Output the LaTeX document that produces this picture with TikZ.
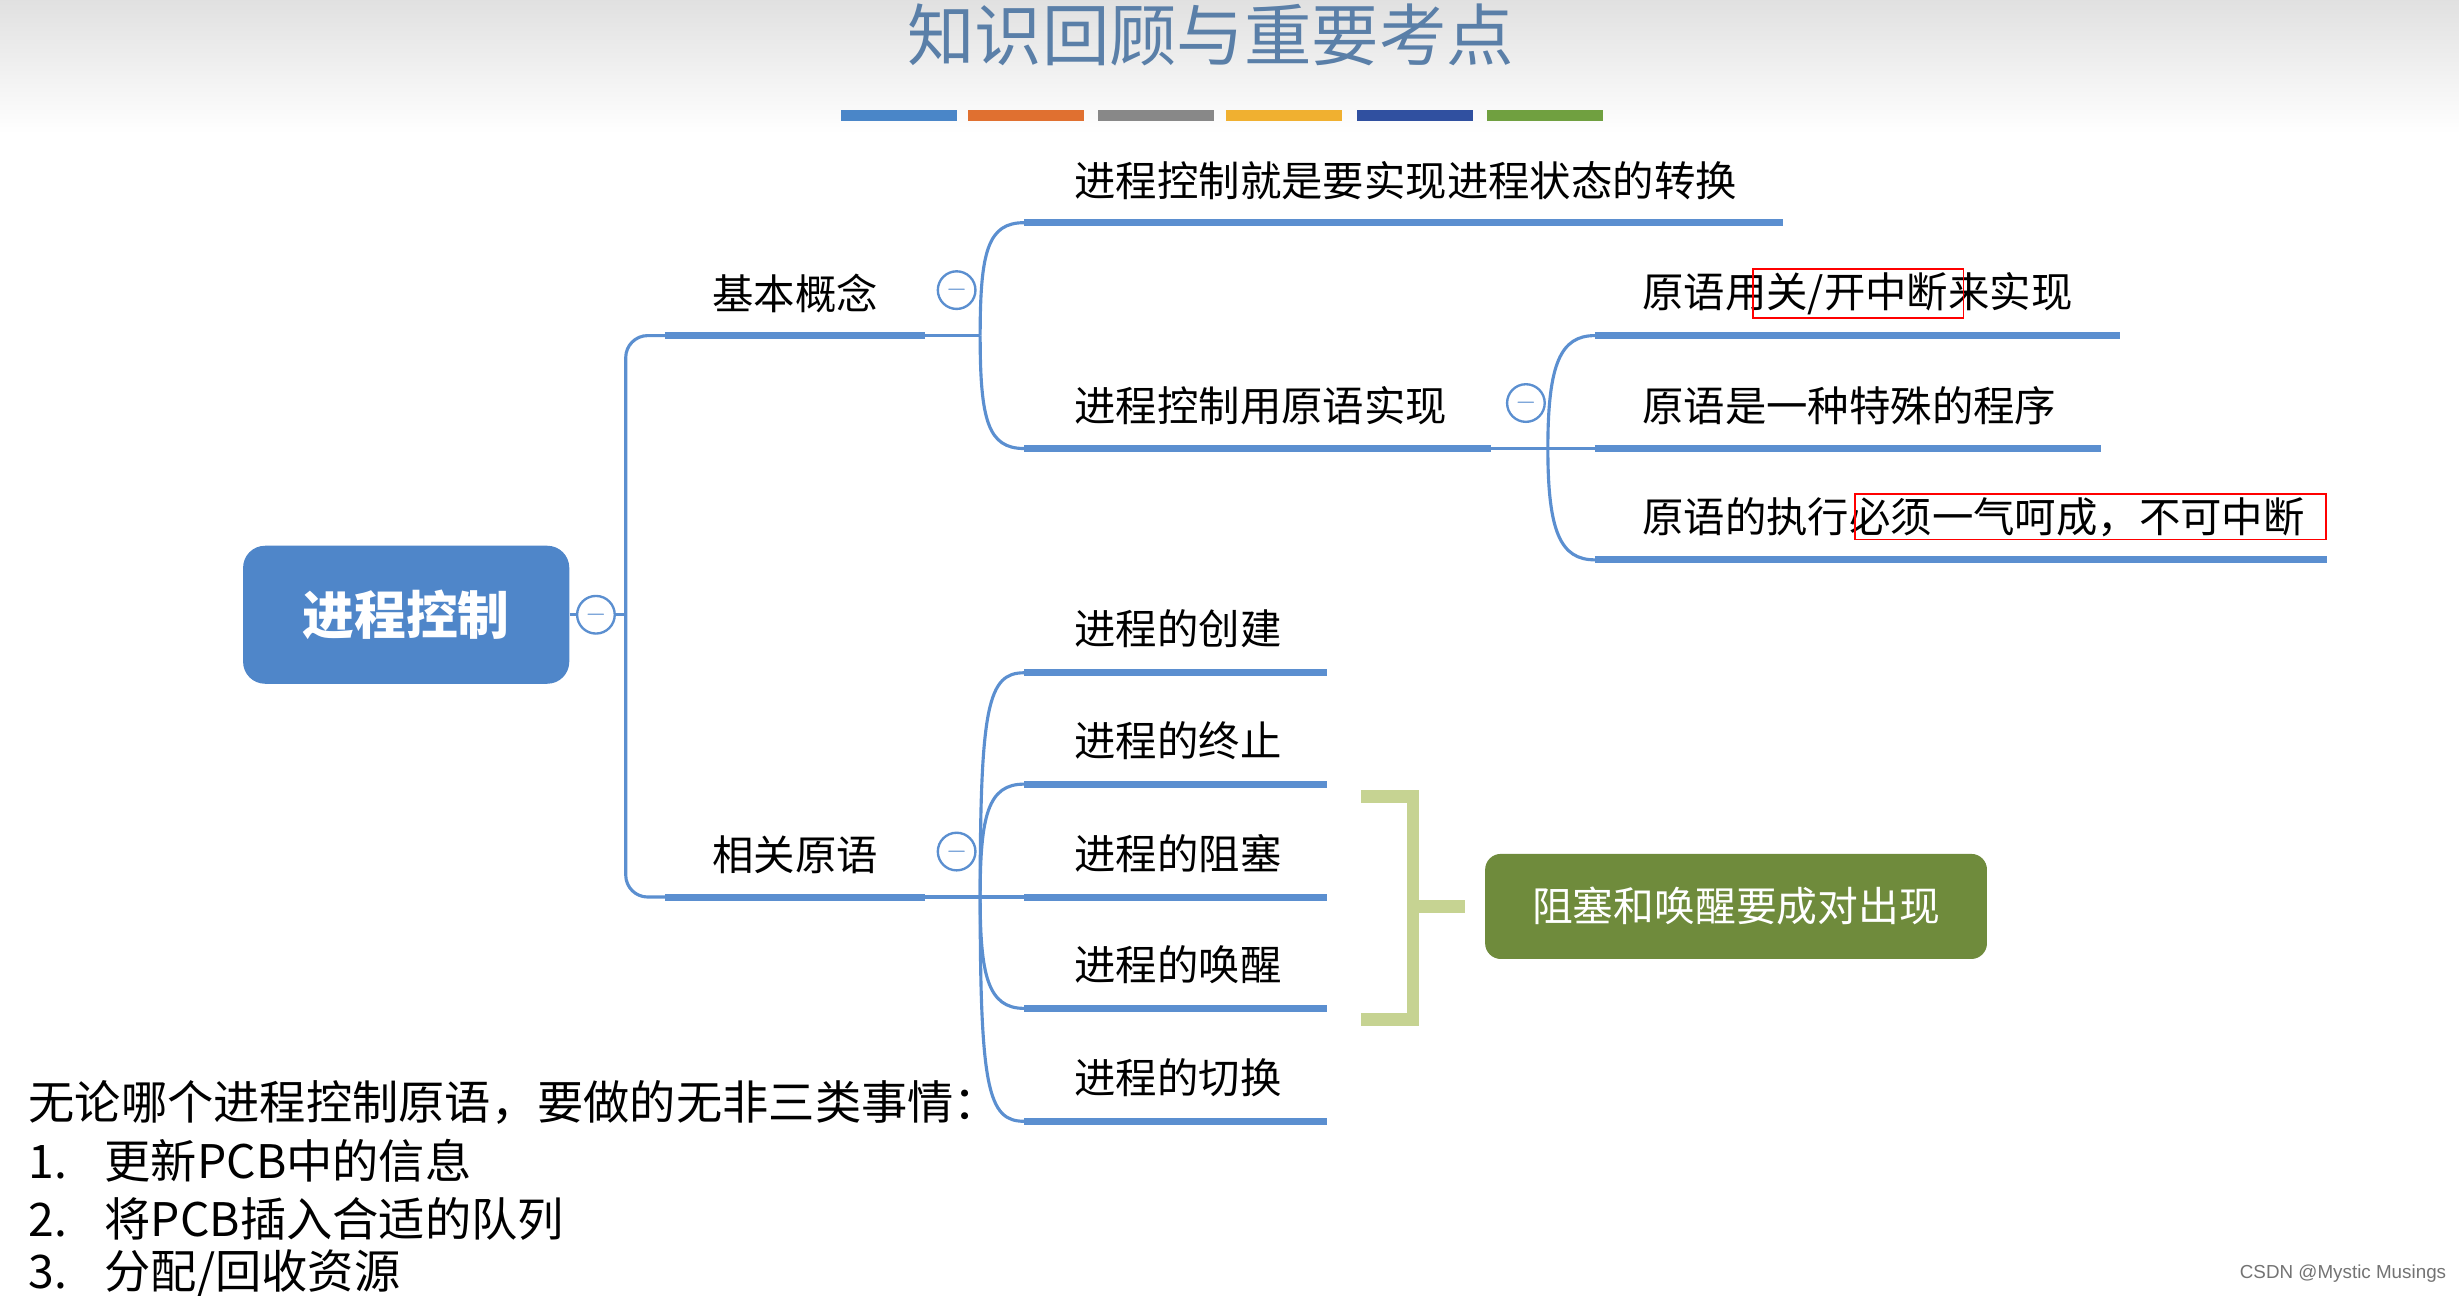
\documentclass[tikz,border=0pt]{standalone}
\usepackage{fontspec}
\setmainfont{Noto Sans CJK SC}
\newfontfamily\latin{Liberation Sans}
\definecolor{ln}{HTML}{5B8FD0}
\definecolor{rootc}{HTML}{4F86C9}
\definecolor{gbox}{HTML}{6F8B3C}
\definecolor{brk}{HTML}{C6D392}
\definecolor{ttl}{HTML}{5A7FA8}
\begin{document}
\begin{tikzpicture}[x=1pt,y=-1pt,
  t/.style={anchor=west,inner sep=0pt,font=\fontsize{26.4}{30}\selectfont},
  bt/.style={anchor=west,inner sep=0pt,font=\fontsize{29.5}{32}\selectfont},
  ul/.style={draw=ln,line width=4.5pt},
  cn/.style={draw=ln,line width=2pt},
  col/.style={circle,draw=ln,line width=1.5pt,fill=white,minimum size=24pt,inner sep=0pt,font=\fontsize{18}{18}\selectfont\color{ln}}]
\useasboundingbox (0,0) rectangle (1568,826);
\shade[top color=black!12,bottom color=white] (0,0) rectangle (1568,85);
\node[font=\fontsize{43}{46}\selectfont,text=ttl] (title) at (772,22) {知识回顾与重要考点};
\fill[fill={rgb,255:red,74;green,134;blue,200}] (536,70) rectangle ++(74,7);
\fill[fill={rgb,255:red,224;green,112;blue,48}] (617,70) rectangle ++(74,7);
\fill[fill={rgb,255:red,136;green,136;blue,136}] (700,70) rectangle ++(74,7);
\fill[fill={rgb,255:red,240;green,176;blue,48}] (782,70) rectangle ++(74,7);
\fill[fill={rgb,255:red,48;green,80;blue,160}] (865,70) rectangle ++(74,7);
\fill[fill={rgb,255:red,112;green,160;blue,64}] (948,70) rectangle ++(74,7);
% root
\node[fill=rootc,rounded corners=14pt,minimum width=208pt,minimum height=88pt,text=white,font=\fontsize{33}{36}\selectfont\bfseries] (root) at (259,392) {进程控制};
\draw[cn] (root.east) -- (399,392);
\draw[cn,rounded corners=14pt] (424,214) -- (399,214) -- (399,572) -- (424,572);
\node[col] (c0) at (380,392) {$-$};
% level 1
\coordinate (a1) at (424,214); \coordinate (a2) at (590,214);
\coordinate (b1) at (424,572); \coordinate (b2) at (590,572);
\draw[ul] (a1) -- (a2); \draw[ul] (b1) -- (b2);
\node[t] (A) at (454,187) {基本概念};
\node[t] (B) at (454,545) {相关原语};
% basic concept children
\coordinate (ja) at (625,214);
\draw[cn] (a2) -- (ja);
\coordinate (a11) at (653,142); \coordinate (a12) at (1137,142);
\coordinate (a21) at (653,286); \coordinate (a22) at (951,286);
\draw[cn] (ja) .. controls (625,160) and (630,142) .. (a11);
\draw[cn] (ja) .. controls (625,268) and (630,286) .. (a21);
\draw[ul] (a11) -- (a12); \draw[ul] (a21) -- (a22);
\node[col] (c1) at (610,185) {$-$};
\node[t] (A1) at (685,115) {进程控制就是要实现进程状态的转换};
\node[t] (A2) at (685,259) {进程控制用原语实现};
% primitive children
\coordinate (jb) at (987,286);
\draw[cn] (a22) -- (jb);
\foreach \y/\e/\n in {214/1352/p1,286/1340/p2,357/1484/p3}{
  \coordinate (\n s) at (1017,\y); \coordinate (\n e) at (\e,\y);
  \draw[ul] (\n s) -- (\n e);}
\draw[cn] (jb) .. controls (987,232) and (995,214) .. (p1s);
\draw[cn] (jb) -- (p2s);
\draw[cn] (jb) .. controls (987,339) and (995,357) .. (p3s);
\node[col] (c2) at (973,257) {$-$};
\node[t] (P1) at (1047,187) {原语用关/开中断来实现};
\node[t] (P2) at (1047,259) {原语是一种特殊的程序};
\node[t] (P3) at (1047,330) {原语的执行必须一气呵成，不可中断};
\node[draw=red,line width=1.2pt,minimum width=134pt,minimum height=31pt,inner sep=0pt] (r1) at (1185,187) {};
\node[draw=red,line width=1.2pt,minimum width=300pt,minimum height=29pt,inner sep=0pt] (r2) at (1333,329.5) {};
% related primitives
\coordinate (jc) at (625,572);
\draw[cn] (b2) -- (jc);
\node[col] (c3) at (610,543) {$-$};
\foreach \y/\n/\txt in {429/q1/进程的创建,500/q2/进程的终止,572/q3/进程的阻塞,643/q4/进程的唤醒,715/q5/进程的切换}{
  \coordinate (\n s) at (653,\y); \coordinate (\n e) at (846,\y);
  \draw[ul] (\n s) -- (\n e);
  \node[t] (\n t) at (685,\y-28) {\txt};}
\draw[cn] (jc) .. controls (625,450) and (630,429) .. (q1s);
\draw[cn] (jc) .. controls (625,520) and (630,500) .. (q2s);
\draw[cn] (jc) -- (q3s);
\draw[cn] (jc) .. controls (625,622) and (630,643) .. (q4s);
\draw[cn] (jc) .. controls (625,694) and (630,715) .. (q5s);
% bracket
\coordinate (k1) at (868,508); \coordinate (k2) at (868,650);
\coordinate (k3) at (934,578);
\draw[brk,line width=8pt] (k1) -- (901,508) -- (901,650) -- (k2);
\draw[brk,line width=8pt] (901,578) -- (k3);
\node[fill=gbox,rounded corners=10pt,minimum width=320pt,minimum height=67pt,text=white,font=\fontsize{26}{28}\selectfont] (G) at (1107,578) {阻塞和唤醒要成对出现};
% bottom text
\node[bt] (L0) at (18,703) {无论哪个进程控制原语，要做的无非三类事情：};
\node[bt] (L1) at (18,740) {1.\hspace{24pt}更新PCB中的信息};
\node[bt] (L2) at (18,777) {2.\hspace{24pt}将PCB插入合适的队列};
\node[bt] (L3) at (18,812) {3.\hspace{24pt}分配/回收资源};
\node[anchor=east,inner sep=0pt,font=\latin\fontsize{12}{14}\selectfont,text=black!55] (wm) at (1560,812) {CSDN @Mystic Musings};
\end{tikzpicture}
\end{document}
